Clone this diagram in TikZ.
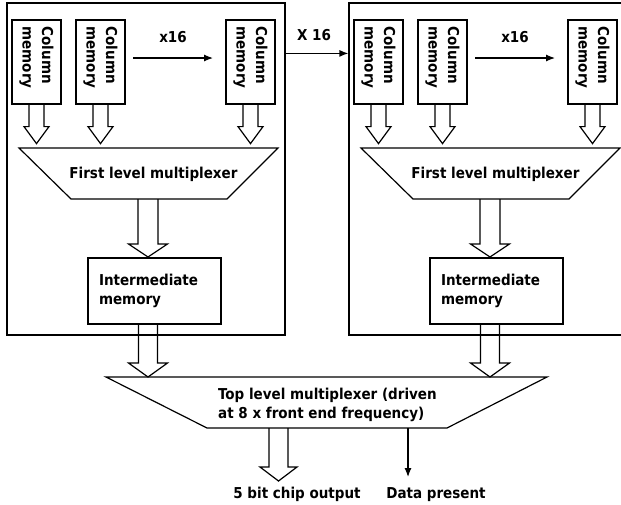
\documentclass[tikz,border=0pt]{standalone}
\usepackage{fontspec}
\setmainfont{DejaVu Sans}
\newfontfamily\labelfont{DejaVu Sans Condensed}[BoldFont={* Bold}]
\usetikzlibrary{calc,arrows.meta}

% hollow arrow: from, length, shaft half width, head half width, head length
\newcommand{\fatarrow}[5]{%
  \draw[wire] ($(#1)+(-#3,0)$) -- ($(#1)+({-#3},{#2-#5})$) -- ($(#1)+({-#4},{#2-#5})$)
    -- ($(#1)+(0,#2)$) -- ($(#1)+(#4,{#2-#5})$) -- ($(#1)+(#3,{#2-#5})$) -- ($(#1)+(#3,0)$);}

\begin{document}
\begin{tikzpicture}
[x=1pt,y=-1pt,every node/.style={font=\labelfont\bfseries\fontsize{15}{19.5}\selectfont,inner sep=0pt},
wire/.style={line width=1.2pt,line join=miter},
colbox/.style={draw,line width=1.2pt,minimum width=49pt,minimum height=84pt},
membox/.style={draw,line width=1.2pt,minimum width=133pt,minimum height=66pt,text width=111pt,align=left},
sig/.style={line width=1.2pt,-{Latex[length=9pt,width=7pt]}}]
\useasboundingbox (0,0) rectangle (621,504);
\foreach \dx/\g in {0/l,342/r}{
\begin{scope}[xshift=\dx]
\node[draw,line width=1.2pt,minimum width=278pt,minimum height=332pt] (frame-\g) at (146,169) {};
\node[colbox] (cA-\g) at (36.5,62) {};
\node[colbox] (cB-\g) at (100.5,62) {};
\node[colbox] (cC-\g) at (250.5,62) {};
\foreach \c in {A,B,C}{
\node[rotate=-90,anchor=west,align=left] at ($(c\c-\g.north)+(0,7)$) {Column\\memory};
\fatarrow{c\c-\g.south}{39}{7.5}{12.5}{17}
}
\node[anchor=base] (xa-\g) at (173,42) {x16};
\coordinate (ra-\g) at (133,58);
\coordinate (rb-\g) at (213,58);
\draw[sig] (ra-\g) -- (rb-\g);
\draw[wire] (19,148) -- (278,148) -- (227,199) -- (71,199) -- cycle;
\node[anchor=base] (mux-\g) at (153.5,178) {First level multiplexer};
\coordinate (muxb-\g) at (148,199);
\fatarrow{muxb-\g}{58}{10}{19.5}{13}
\node[membox] (int-\g) at (154.5,291) {Intermediate\\memory};
\coordinate (down-\g) at (148,324);
\fatarrow{down-\g}{53}{9.5}{19.5}{14}
\end{scope}
}
\node[anchor=base] (xs) at (314,40) {X 16};
\draw[sig] ($(frame-l.north east)+(0,51)$) -- ($(frame-r.north west)+(0,51)$);
\draw[wire] (106,377) -- (547,377) -- (447,428) -- (207,428) -- cycle;
\node[anchor=west,align=left] (top) at (218,405) {Top level multiplexer (driven\\at 8 x front end frequency)};
\coordinate (outb) at (278.5,428);
\fatarrow{outb}{53}{9.5}{18.5}{14}
\node[anchor=base] (out) at (297,498) {5 bit chip output};
\coordinate (dp) at (408,428);
\node[anchor=base] (dpt) at (436,498) {Data present};
\draw[sig] (dp) -- ++(0,49);
\end{tikzpicture}
\end{document}
